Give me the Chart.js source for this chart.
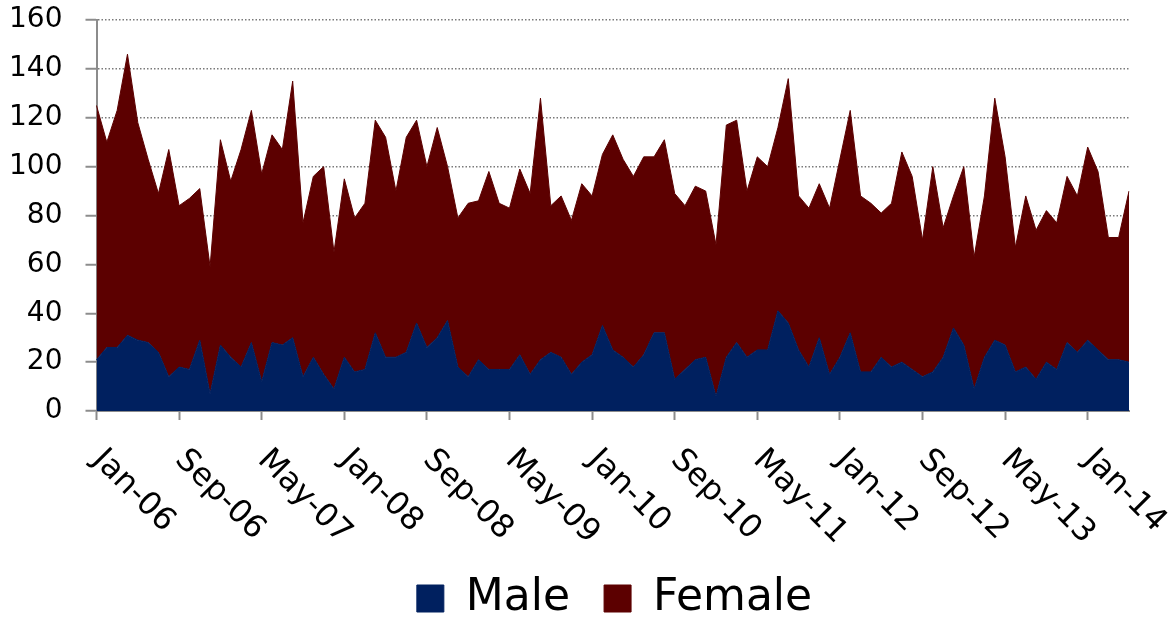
<!DOCTYPE html>
<html>
<head>
<meta charset="utf-8">
<script src="https://cdn.jsdelivr.net/npm/chart.js@4"></script>
<style>
    body { margin: 0; background: #fff; }
    #wrap { width: 1175px; height: 624px; position: relative; }
</style>
</head>
<body>
<div id="wrap"><canvas id="genderChart"></canvas></div>
<script>
// monthly counts, Jan-06 .. May-14
const startYear = 2006;
const monthNames = ['Jan', 'Feb', 'Mar', 'Apr', 'May', 'Jun', 'Jul', 'Aug', 'Sep', 'Oct', 'Nov', 'Dec'];

const maleCounts = [
    21, 26, 26, 31, 29, 28, 24, 14, 18, 17, 29, 7,
    27, 22, 18, 28, 12, 28, 27, 30, 14, 22, 15, 9,
    22, 16, 17, 32, 22, 22, 24, 36, 26, 30, 37, 18,
    14, 21, 17, 17, 17, 23, 15, 21, 24, 22, 15, 20,
    23, 35, 25, 22, 18, 23, 32, 32, 13, 17, 21, 22,
    6, 22, 28, 22, 25, 25, 41, 36, 25, 18, 30, 15,
    22, 32, 16, 16, 22, 18, 20, 17, 14, 16, 22, 34,
    27, 9, 22, 29, 27, 16, 18, 13, 20, 17, 28, 24,
    29, 25, 21, 21, 20
];

const femaleCounts = [
    104, 84, 97, 115, 89, 75, 65, 93, 66, 70, 62, 52,
    84, 72, 89, 95, 85, 85, 80, 105, 63, 74, 85, 56,
    73, 63, 68, 87, 90, 68, 88, 83, 74, 86, 63, 61,
    71, 65, 81, 68, 66, 76, 74, 107, 60, 66, 63, 73,
    65, 70, 88, 81, 78, 81, 72, 79, 76, 67, 71, 68,
    62, 95, 91, 68, 79, 75, 75, 100, 63, 65, 63, 68,
    81, 91, 72, 69, 59, 67, 86, 79, 56, 84, 53, 54,
    73, 54, 66, 99, 77, 51, 70, 61, 62, 60, 68, 64,
    79, 73, 50, 50, 70
];

const yTicks = [0, 20, 40, 60, 80, 100, 120, 140, 160];
const labelEvery = 8;

const monthLabels = [];
for (let i = 0; i < maleCounts.length; i++) {
    const yy = String((startYear + Math.floor(i / 12)) % 100).padStart(2, '0');
    monthLabels.push(monthNames[i % 12] + '-' + yy);
}

const MALE_COLOR = '#00205f';
const FEMALE_COLOR = '#5c0000';
const AXIS_GREY = '#8c8c8c';
const FONT = 'DejaVu Sans';

Chart.defaults.font.family = FONT;
Chart.defaults.color = '#000';

// Excel style labels: rotated clockwise, starting at the tick
const slantedLabels = {
    id: 'slantedLabels',
    afterDraw(chart) {
        const xs = chart.scales.x;
        const ctx = chart.ctx;
        ctx.save();
        ctx.font = '32px "' + FONT + '"';
        ctx.fillStyle = '#000';
        ctx.textAlign = 'left';
        ctx.textBaseline = 'alphabetic';
        monthLabels.forEach((lab, i) => {
            if (i % labelEvery !== 0) return;
            const x = xs.getPixelForValue(i);
            ctx.save();
            ctx.translate(x - 5, xs.top + 50);
            ctx.rotate(Math.PI / 4);
            ctx.fillText(lab, 0, 0);
            ctx.restore();
        });
        ctx.restore();
    }
};

// nudge the legend so it sits centred under the plot like the original
const legendNudge = {
    id: 'legendNudge',
    afterLayout(chart) {
        const lg = chart.legend;
        lg.left += 50; lg.right += 50;
        lg.top += 6.5; lg.bottom += 6.5;
    }
};

const ctx = document.getElementById('genderChart').getContext('2d');
new Chart(ctx, {
    type: 'line',
    data: {
        labels: monthLabels,
        datasets: [{
            label: 'Male',
            data: maleCounts,
            backgroundColor: MALE_COLOR,
            borderColor: MALE_COLOR,
            borderWidth: 1,
            pointRadius: 0,
            fill: 'origin',
            tension: 0
        }, {
            label: 'Female',
            data: femaleCounts,
            backgroundColor: FEMALE_COLOR,
            borderColor: FEMALE_COLOR,
            borderWidth: 1,
            pointRadius: 0,
            fill: '-1',
            tension: 0
        }]
    },
    options: {
        responsive: true,
        maintainAspectRatio: false,
        animation: false,
        layout: { padding: { top: 20, right: 46, bottom: 0, left: 0 } },
        plugins: {
            tooltip: { enabled: false },
            legend: {
                position: 'bottom',
                labels: {
                    boxWidth: 27,
                    boxHeight: 27,
                    padding: 34,
                    font: { size: 44 },
                    color: '#000'
                }
            }
        },
        scales: {
            x: {
                offset: false,
                grid: {
                    drawOnChartArea: false,
                    tickLength: 9,
                    tickColor: c => (c.index % labelEvery === 0 ? AXIS_GREY : 'rgba(0,0,0,0)'),
                    tickWidth: 2
                },
                border: { color: AXIS_GREY, width: 2 },
                ticks: { display: false, autoSkip: false },
                afterFit(scale) {
                    scale.height = scale.chart.height - scale.chart.legend.height - 411;
                }
            },
            y: {
                stacked: true,
                min: 0,
                max: 160,
                afterBuildTicks(scale) {
                    scale.ticks = yTicks.map(v => ({ value: v }));
                },
                grid: {
                    color: c => (c.tick && c.tick.value === 0 ? 'rgba(0,0,0,0)' : '#7a7a7a'),
                    tickColor: AXIS_GREY,
                    tickLength: 11,
                    tickWidth: 2,
                    lineWidth: 1.5
                },
                border: { color: AXIS_GREY, width: 2, dash: [1.5, 2] },
                ticks: { padding: 23, font: { size: 28 }, color: '#000' },
                afterFit(scale) {
                    scale.width = 96.5;
                    scale.paddingTop = 0;
                    scale.paddingBottom = 0;
                }
            }
        }
    },
    plugins: [slantedLabels, legendNudge]
});
</script>
</body>
</html>
